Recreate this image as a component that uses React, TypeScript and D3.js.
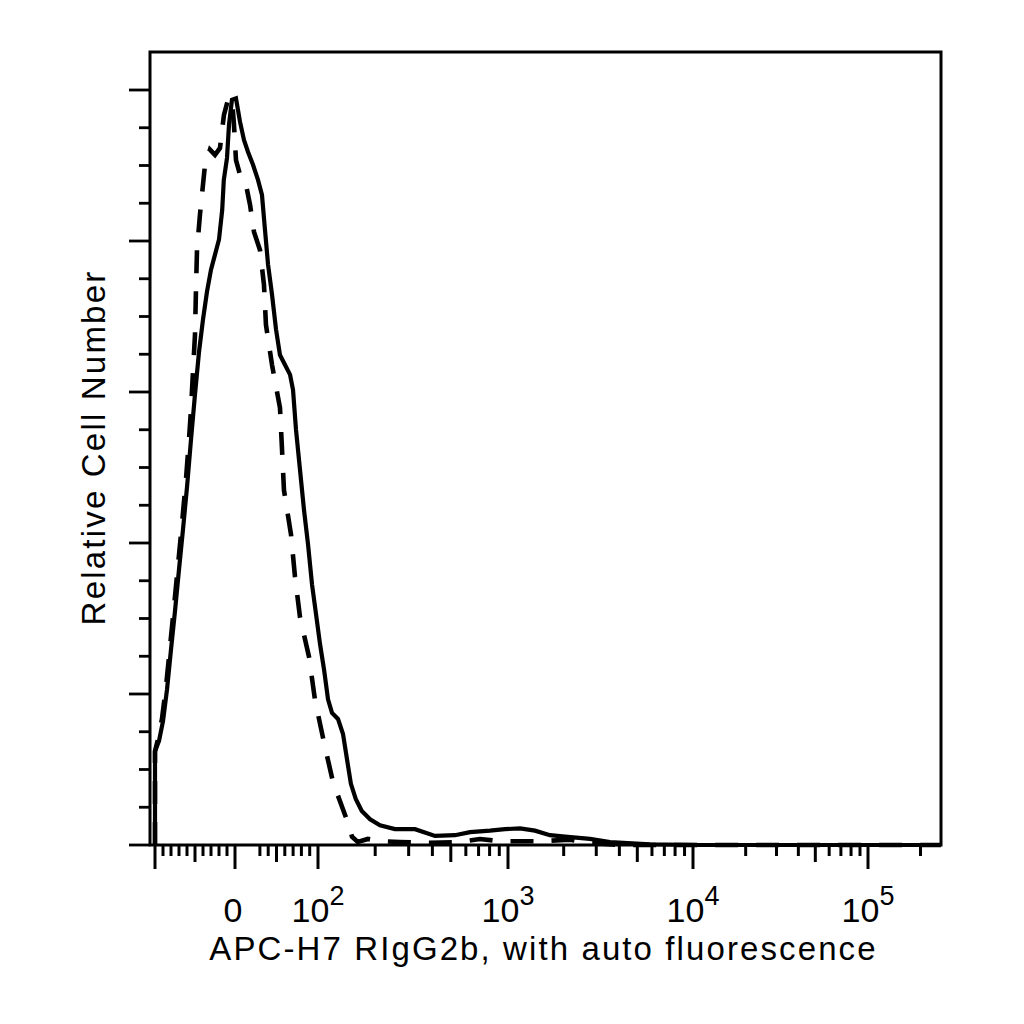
import React from "react";
import * as d3 from "d3";

// Histogram of APC-H7 fluorescence (x in fluorescence units, y relative count 0-100)
const solidValues = [-100,-100,-95,-90,-85,-80,-75,-70,-65,-60,-55,-50,-45,-40,-35,-30,-25,-20,-16,-14,-10,-7.5,-3.8,1.2,6,10.8,15.7,21.7,27.7,32.5,36.1,39.8,44.6,49.4,54.2,60.2,66.3,69.9,73.5,78.3,83.1,88,92.8,97.6,102.5,107.5,112.9,118.5,127.4,135.4,142,149,158,170,188,212,254,324,413,526,631,804,964,1161,1399,1686,2032,2776,3560,5850,10960,262144];
const solidCounts = [0,12.4,13.8,16.4,20.6,25.9,31.0,36.5,41.8,47.4,53.7,59.7,65.3,69.6,73.3,76.2,78.2,80.2,84.1,88.1,91.0,95.4,98.7,98.9,95.8,93.4,91.8,90.1,88.1,86.1,81.5,76.9,72.9,68.3,64.9,63.6,62.3,60.3,55.0,49.7,44.4,39.8,34.5,30.6,26.6,23.3,19.3,17.5,16.7,14.7,11.4,8.1,6.1,4.5,3.4,2.6,2.1,2.1,1.2,1.3,1.7,1.9,2.1,2.2,1.9,1.3,1.1,0.8,0.4,0.1,0,0];

const dashedValues = [-100,-100,-96.3,-91.3,-86.3,-81.3,-76.3,-71.3,-66.3,-61.3,-57.5,-55,-52.5,-50,-48.8,-47.5,-43.8,-41.3,-37.5,-31.3,-25,-18.8,-13.8,-8.8,-3.8,-1.3,1.2,6,13.3,18.1,22.9,30.1,34.9,37.3,44.6,54.2,56.6,59,67.5,72.3,78.3,89.2,96.4,107.5,120,142,151,162,183,212,270,388,559,711,908,1489,2163,2776,4030,262144];
const dashedCounts = [0,12.4,14.0,16.7,20.9,26.2,31.5,37.0,42.5,48.4,53.7,57.7,62.7,67.6,73.5,78.8,83.5,86.1,90.1,92.1,91.4,92.3,96.7,98.7,98.9,95.4,90.7,88.8,87.4,84.8,81.2,78.8,74.2,68.9,63.6,57.9,52.5,47.0,41.1,35.5,30.2,24.9,19.2,13.6,8.3,3.3,1.1,0.4,0.8,0.5,0.4,0.3,0.4,0.8,0.5,0.5,0.7,0.3,0,0];

// Axis ticks
const xMajorTicks = [-100, 0, 100, 1000, 10000, 100000];
const xMediumTicks = [-50, 50, 500, 5000, 50000];
const xLinearMinorTicks = [-90, -80, -70, -60, -40, -30, -20, -10, 30, 40, 60, 70, 80, 90];
const xLogDecades = [100, 1000, 10000];
const xExtraMinorTicks = [200000];
const xLabelValues = [0, 100, 1000, 10000, 100000];
const xLabelBases = ["0", "10", "10", "10", "10"];
const xLabelExponents = ["", "2", "3", "4", "5"];

const yMajorTicks = [0, 20, 40, 60, 80, 100];
const yMinorStep = 5;

const xTitle = "APC-H7 RIgG2b, with auto fluorescence";
const yTitle = "Relative Cell Number";

const FONT = "'Liberation Sans', Arial, Helvetica, sans-serif";

export default function App() {
  const left = 150, right = 941, top = 52, bottom = 845;

  const xLin = d3.scaleLinear().domain([-100, 0, 100]).range([155, 235, 318]);
  const xLog = d3.scaleLog().domain([100, 1000, 10000, 100000, 262144]).range([318, 508, 693, 868, 941]);
  const x = (v: number) => (v <= 100 ? xLin(v) : xLog(v));
  const y = d3.scaleLinear().domain([0, 100]).range([bottom, 90]);

  const logMinors: number[] = [];
  xLogDecades.forEach((d) => {
    for (let k = 2; k <= 9; k++) if (k !== 5) logMinors.push(d * k);
  });
  const xMinorTicks = [...xLinearMinorTicks, ...logMinors, ...xExtraMinorTicks];

  const yMinorTicks = d3.range(0, 101, yMinorStep).filter((v) => !yMajorTicks.includes(v));

  const line = d3
    .line<[number, number]>()
    .x((d) => x(d[0]))
    .y((d) => y(d[1]));

  const solidPath = line(d3.zip(solidValues, solidCounts) as [number, number][]) || "";
  const dashedPath = line(d3.zip(dashedValues, dashedCounts) as [number, number][]) || "";

  return (
    <svg
      width={1024}
      height={1024}
      style={{ position: "absolute", left: 0, top: 0, background: "#fff" }}
    >
      <rect x={0} y={0} width={1024} height={1024} fill="#fff" />

      {/* curves */}
      <path d={solidPath} fill="none" stroke="#000" strokeWidth={4.2} strokeLinejoin="miter" />
      <path d={dashedPath} fill="none" stroke="#000" strokeWidth={4.6} strokeDasharray="23 18" />

      {/* frame */}
      <rect x={left} y={top} width={right - left} height={bottom - top} fill="none" stroke="#000" strokeWidth={3} />

      {/* y ticks */}
      {yMajorTicks.map((v) => (
        <line key={"ym" + v} x1={left - 21} x2={left} y1={y(v)} y2={y(v)} stroke="#000" strokeWidth={2.8} />
      ))}
      {yMinorTicks.map((v) => (
        <line key={"yn" + v} x1={left - 11} x2={left} y1={y(v)} y2={y(v)} stroke="#000" strokeWidth={2.8} />
      ))}

      {/* x ticks */}
      {xMajorTicks.map((v) => (
        <line key={"xm" + v} x1={x(v)} x2={x(v)} y1={bottom} y2={bottom + 24} stroke="#000" strokeWidth={3} />
      ))}
      {xMediumTicks.map((v) => (
        <line key={"xd" + v} x1={x(v)} x2={x(v)} y1={bottom} y2={bottom + 17} stroke="#000" strokeWidth={3} />
      ))}
      {xMinorTicks.map((v) => (
        <line key={"xn" + v} x1={x(v)} x2={x(v)} y1={bottom} y2={bottom + 11} stroke="#000" strokeWidth={3} />
      ))}

      {/* x tick labels */}
      {xLabelValues.map((v, i) => (
        <text
          key={"xl" + v}
          x={x(v) - (i === 0 ? 2 : 0)}
          y={922}
          textAnchor="middle"
          fontFamily={FONT}
          fontSize={34}
          fill="#000"
        >
          {xLabelBases[i]}
          {xLabelExponents[i] && (
            <tspan fontSize={27} dy={-17}>
              {xLabelExponents[i]}
            </tspan>
          )}
        </text>
      ))}

      {/* axis titles */}
      <text
        x={(left + right) / 2 - 2}
        y={960}
        textAnchor="middle"
        fontFamily={FONT}
        fontSize={33}
        letterSpacing={2.1}
        fill="#000"
      >
        {xTitle}
      </text>
      <text
        transform={`translate(105, ${(top + bottom) / 2 - 1}) rotate(-90)`}
        textAnchor="middle"
        fontFamily={FONT}
        fontSize={33}
        letterSpacing={2.2}
        fill="#000"
      >
        {yTitle}
      </text>
    </svg>
  );
}
